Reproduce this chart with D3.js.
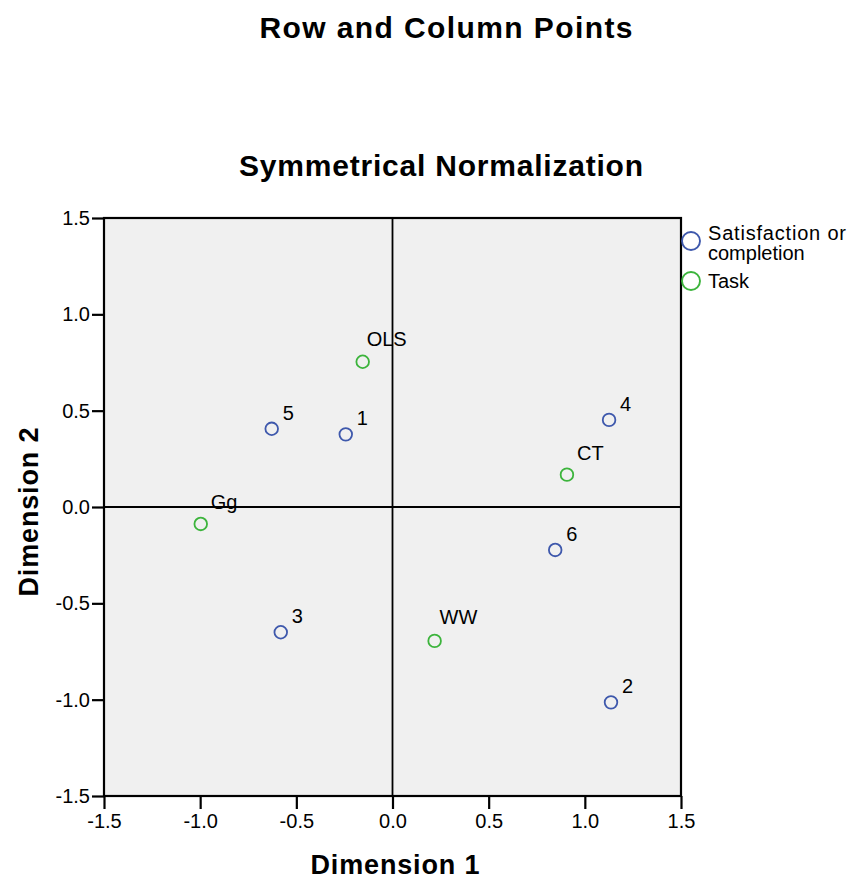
<!DOCTYPE html>
<html>
<head>
<meta charset="utf-8">
<script src="https://cdn.jsdelivr.net/npm/d3@7"></script>
<style>
  html, body { margin: 0; padding: 0; background: #ffffff; }
  svg { display: block; font-family: "Liberation Sans", Arial, sans-serif; }
</style>
</head>
<body>
<svg id="chart" width="851" height="882"></svg>
<script>
// Correspondence analysis: row and column points (symmetrical normalization)
const rowLabels = ["1", "2", "3", "4", "5", "6"];
const rowDim1 = [-0.243, 1.136, -0.581, 1.126, -0.628, 0.846];
const rowDim2 = [0.377, -1.014, -0.650, 0.452, 0.406, -0.223];

const colLabels = ["OLS", "Gg", "CT", "WW"];
const colDim1 = [-0.155, -0.997, 0.907, 0.219];
const colDim2 = [0.754, -0.088, 0.168, -0.695];

const tickValues = [-1.5, -1.0, -0.5, 0.0, 0.5, 1.0, 1.5];
const seriesNames = ["Satisfaction or completion", "Task"];

const colors = { row: "#3e58ac", col: "#3cb43c" };

// label placement relative to each marker
const labelOffset = {
  "OLS": [4, -16], "Gg": [10, -15], "CT": [10, -15], "WW": [5, -17]
};
const defaultOffset = [11, -9];

const svg = d3.select("#chart");

const x = d3.scaleLinear().domain([-1.5, 1.5]).range([104, 681]);
const y = d3.scaleLinear().domain([-1.5, 1.5]).range([796, 218]);

// titles
svg.append("text")
  .attr("x", 446).attr("y", 38)
  .attr("text-anchor", "middle")
  .attr("font-size", 30).attr("font-weight", "bold")
  .attr("textLength", 373).attr("lengthAdjust", "spacing")
  .text("Row and Column Points");

svg.append("text")
  .attr("x", 441).attr("y", 176)
  .attr("text-anchor", "middle")
  .attr("font-size", 30).attr("font-weight", "bold")
  .attr("textLength", 404).attr("lengthAdjust", "spacing")
  .text("Symmetrical Normalization");

// plot background
svg.append("rect")
  .attr("x", x(-1.5)).attr("y", y(1.5))
  .attr("width", x(1.5) - x(-1.5)).attr("height", y(-1.5) - y(1.5))
  .attr("fill", "#f0f0f0");

// reference lines through the origin
svg.append("line")
  .attr("x1", x(-1.5)).attr("x2", x(1.5))
  .attr("y1", y(0)).attr("y2", y(0))
  .attr("stroke", "#000").attr("stroke-width", 1.8);
svg.append("line")
  .attr("x1", x(0)).attr("x2", x(0))
  .attr("y1", y(-1.5)).attr("y2", y(1.5))
  .attr("stroke", "#000").attr("stroke-width", 1.8);

// axes
const fmt = d => d.toFixed(1);
const xAxis = svg.append("g")
  .attr("transform", `translate(0,${y(-1.5)})`)
  .call(d3.axisBottom(x).tickValues(tickValues).tickFormat(fmt).tickSize(13).tickPadding(5));
const yAxis = svg.append("g")
  .attr("transform", `translate(${x(-1.5)},0)`)
  .call(d3.axisLeft(y).tickValues(tickValues).tickFormat(fmt).tickSize(12).tickPadding(2));

[xAxis, yAxis].forEach(g => {
  g.selectAll("text").attr("font-size", 20).attr("fill", "#000")
    .attr("font-family", "'Liberation Sans', Arial, sans-serif");
  g.selectAll("line").attr("stroke", "#000").attr("stroke-width", 2.2);
  g.select(".domain").remove();
});

// frame
svg.append("rect")
  .attr("x", x(-1.5)).attr("y", y(1.5))
  .attr("width", x(1.5) - x(-1.5)).attr("height", y(-1.5) - y(1.5))
  .attr("fill", "none").attr("stroke", "#000").attr("stroke-width", 2.2);

// axis titles
svg.append("text")
  .attr("x", 395).attr("y", 874)
  .attr("text-anchor", "middle")
  .attr("font-size", 27).attr("font-weight", "bold")
  .attr("textLength", 169).attr("lengthAdjust", "spacing")
  .text("Dimension 1");

svg.append("text")
  .attr("transform", "translate(38,512) rotate(-90)")
  .attr("text-anchor", "middle")
  .attr("font-size", 27).attr("font-weight", "bold")
  .attr("textLength", 169).attr("lengthAdjust", "spacing")
  .text("Dimension 2");

// points
const rows = rowLabels.map((l, i) => ({ label: l, d1: rowDim1[i], d2: rowDim2[i], color: colors.row }));
const cols = colLabels.map((l, i) => ({ label: l, d1: colDim1[i], d2: colDim2[i], color: colors.col }));
const all = rows.concat(cols);

const pts = svg.append("g").selectAll("g").data(all).join("g");
pts.append("circle")
  .attr("cx", d => x(d.d1)).attr("cy", d => y(d.d2))
  .attr("r", 6.3)
  .attr("fill", "none")
  .attr("stroke", d => d.color).attr("stroke-width", 1.8);
pts.append("text")
  .attr("x", d => x(d.d1) + (labelOffset[d.label] || defaultOffset)[0])
  .attr("y", d => y(d.d2) + (labelOffset[d.label] || defaultOffset)[1])
  .attr("font-size", 20)
  .attr("fill", "#000")
  .text(d => d.label);

// legend
const legend = svg.append("g");
legend.append("circle").attr("cx", 691).attr("cy", 241).attr("r", 9)
  .attr("fill", "none").attr("stroke", colors.row).attr("stroke-width", 1.9);
legend.append("text").attr("x", 708).attr("y", 240).attr("font-size", 20)
  .attr("textLength", 138).attr("lengthAdjust", "spacing")
  .text("Satisfaction or");
legend.append("text").attr("x", 708).attr("y", 260).attr("font-size", 20)
  .text("completion");
legend.append("circle").attr("cx", 691).attr("cy", 281).attr("r", 9)
  .attr("fill", "none").attr("stroke", colors.col).attr("stroke-width", 1.9);
legend.append("text").attr("x", 708).attr("y", 288).attr("font-size", 20)
  .text(seriesNames[1]);
</script>
</body>
</html>
